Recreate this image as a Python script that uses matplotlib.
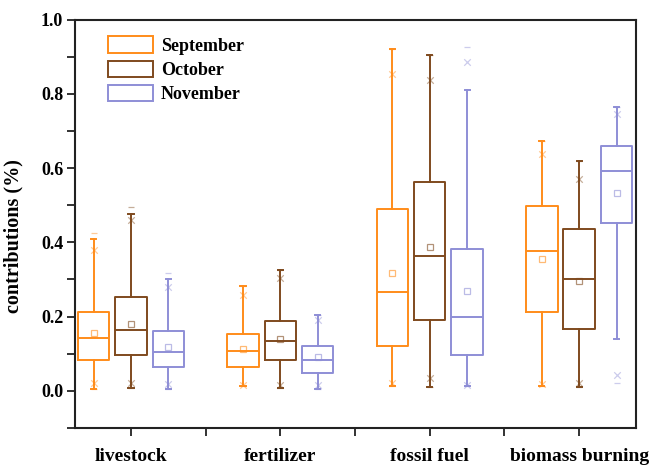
import matplotlib
matplotlib.use("Agg")
import matplotlib.pyplot as plt
from matplotlib.patches import Patch
from matplotlib.ticker import MultipleLocator, FixedLocator

sources = ["livestock", "fertilizer", "fossil fuel", "biomass burning"]
months = ["September", "October", "November"]

# rows: months (Sep, Oct, Nov); columns: sources
whislo = [[0.006, 0.012, 0.012, 0.012],
          [0.009, 0.009, 0.010, 0.010],
          [0.006, 0.005, 0.012, 0.141]]
q1 = [[0.082, 0.065, 0.121, 0.213],
      [0.096, 0.083, 0.191, 0.166],
      [0.064, 0.048, 0.096, 0.453]]
med = [[0.142, 0.107, 0.267, 0.376],
       [0.164, 0.133, 0.363, 0.301],
       [0.106, 0.083, 0.198, 0.592]]
q3 = [[0.213, 0.153, 0.489, 0.498],
      [0.252, 0.188, 0.563, 0.435],
      [0.161, 0.121, 0.382, 0.660]]
whishi = [[0.408, 0.283, 0.920, 0.673],
          [0.475, 0.326, 0.904, 0.619],
          [0.301, 0.205, 0.810, 0.765]]
means = [[0.155, 0.114, 0.318, 0.354],
         [0.180, 0.141, 0.388, 0.297],
         [0.118, 0.090, 0.268, 0.534]]
p01 = [[0.020, 0.016, 0.022, 0.019],
       [0.022, 0.016, 0.034, 0.020],
       [0.018, 0.016, 0.015, 0.043]]
p99 = [[0.380, 0.258, 0.853, 0.638],
       [0.460, 0.303, 0.837, 0.570],
       [0.279, 0.191, 0.886, 0.746]]
vmin = [[0.006, 0.012, 0.012, 0.012],
        [0.009, 0.009, 0.010, 0.010],
        [0.006, 0.005, 0.012, 0.022]]
vmax = [[0.424, 0.283, 0.920, 0.673],
        [0.496, 0.326, 0.904, 0.619],
        [0.318, 0.205, 0.925, 0.765]]

colors = ["#FF8C1A", "#7F4A1E", "#8E8ED6"]
offsets = [-0.25, 0.0, 0.25]

plt.rcParams["font.family"] = ["Liberation Serif", "DejaVu Serif"]
plt.rcParams["font.weight"] = "bold"

fig = plt.figure(figsize=(6.59, 4.69), dpi=100)
ax = fig.add_axes([0.1138, 0.0874, 0.8512, 0.8710])

for m in range(3):
    c = colors[m]
    stats = []
    for s in range(4):
        stats.append(dict(whislo=whislo[m][s], q1=q1[m][s], med=med[m][s],
                          q3=q3[m][s], whishi=whishi[m][s], mean=means[m][s],
                          fliers=[]))
    pos = [s + 1 + offsets[m] for s in range(4)]
    ax.bxp(stats, positions=pos, widths=0.21, capwidths=0.035,
           showmeans=True, showfliers=False, manage_ticks=False,
           boxprops=dict(color=c, linewidth=1.4),
           whiskerprops=dict(color=c, linewidth=1.4),
           capprops=dict(color=c, linewidth=1.4),
           medianprops=dict(color=c, linewidth=1.4),
           meanprops=dict(marker="s", markerfacecolor="none",
                          markeredgecolor=c, markersize=4.5,
                          markeredgewidth=0.9, alpha=0.6))
    ax.scatter(pos + pos, p01[m] + p99[m], marker="x", s=22,
               color=c, linewidths=0.9, alpha=0.45, zorder=3)
    ax.scatter(pos + pos, vmin[m] + vmax[m], marker="_", s=22,
               color=c, linewidths=0.9, alpha=0.45, zorder=3)

ax.set_xlim(0.625, 4.38)
ax.set_ylim(-0.1, 1.0)
ax.xaxis.set_major_locator(FixedLocator([1, 2, 3, 4]))
ax.xaxis.set_minor_locator(FixedLocator([1.5, 2.5, 3.5]))
ax.set_xticklabels(sources, fontsize=14, fontweight="bold")
ax.yaxis.set_major_locator(FixedLocator([0.0, 0.2, 0.4, 0.6, 0.8, 1.0]))
ax.yaxis.set_minor_locator(MultipleLocator(0.1))
ax.set_yticklabels(["0.0", "0.2", "0.4", "0.6", "0.8", "1.0"],
                   fontsize=13, fontweight="bold")
ax.tick_params(axis="both", which="both", direction="out", length=5.5,
               width=1.3, color="#222222")
ax.tick_params(axis="x", which="major", pad=9)
ax.tick_params(axis="y", which="major", pad=3)
for sp in ax.spines.values():
    sp.set_linewidth(1.5)
    sp.set_color("#222222")

ax.set_ylabel("contributions (%)", fontsize=14.5, fontweight="bold")
ax.yaxis.set_label_coords(-0.092, 0.47)

handles = [Patch(facecolor="white", edgecolor=colors[i], linewidth=1.4,
                 label=months[i]) for i in range(3)]
ax.legend(handles=handles, loc="upper left", bbox_to_anchor=(0.04, 0.985),
          frameon=False, prop=dict(size=13, weight="bold"),
          handlelength=2.5, handleheight=1.0, handletextpad=0.4,
          labelspacing=0.32, borderaxespad=0.2)

fig.savefig("out.png", dpi=100)
